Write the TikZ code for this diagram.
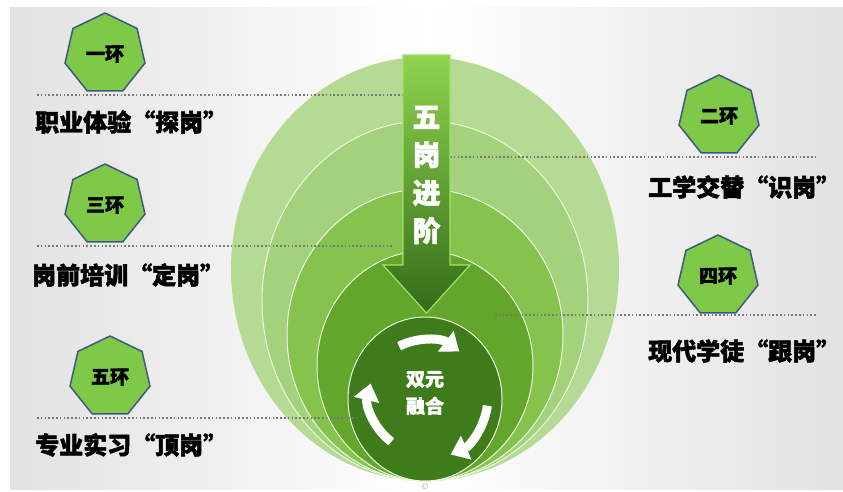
\documentclass[tikz,border=0pt]{standalone}
\usepackage{fontspec}
\newfontfamily\cjk{Noto Sans CJK SC}[BoldFeatures={FakeBold=2}]
\usetikzlibrary{shapes.geometric,arrows.meta}
\definecolor{ringa}{RGB}{181,218,148}
\definecolor{ringb}{RGB}{163,209,124}
\definecolor{ringc}{RGB}{134,194,78}
\definecolor{ringd}{RGB}{98,166,43}
\definecolor{ringe}{RGB}{61,123,27}
\definecolor{ringline}{RGB}{236,248,220}
\definecolor{heptfill}{RGB}{127,201,72}
\definecolor{heptline}{RGB}{62,88,128}
\definecolor{sepgray}{RGB}{120,120,120}
\definecolor{bggray}{RGB}{226,226,226}
\definecolor{arrowtop}{RGB}{143,212,80}
\definecolor{arrowmid}{RGB}{96,160,50}
\definecolor{arrowbot}{RGB}{52,108,24}
\definecolor{arrowline}{RGB}{160,226,104}
\tikzset{every node/.style={align=center}, >=latex,
  hept/.style={regular polygon, regular polygon sides=7, draw=heptline, fill=heptfill, line width=1.5pt,
    minimum size=82pt, inner sep=0pt, font=\cjk\bfseries\fontsize{19}{19}\selectfont},
  caption/.style={anchor=west, inner sep=0pt, font=\cjk\bfseries\fontsize{24}{24}\selectfont},
  sep/.style={draw=sepgray, line width=1.5pt, dash pattern=on 1.5pt off 2.3pt},
  turn/.style={white, line width=9pt, -{Triangle[width=25pt,length=17pt]}}}

\begin{document}
\begin{tikzpicture}[x=1pt, y=1pt]
  \useasboundingbox (0,0) rectangle (843,491);
  \fill[white] (0,0) rectangle (843,491);
  \shade[left color=bggray, right color=bggray, middle color=white] (10,2) rectangle (843,483);

  \fill[ringa] (425,222) ellipse [x radius=194, y radius=212];
  \foreach \c/\cy/\rx/\ry in {ringb/190/163/180, ringc/156/138/146, ringd/125/108/115}
    \filldraw[draw=ringline, line width=1pt, fill=\c] (425,\cy) ellipse [x radius=\rx, y radius=\ry];
  \node[ellipse, draw=ringline, line width=1pt, fill=ringe, minimum width=154pt, minimum height=164pt, inner sep=0pt] (core) at (425,92) {};

  \node[hept] (h1) at (105,437) {一环};
  \node[hept] (h2) at (719,375) {二环};
  \node[hept] (h3) at (105,286) {三环};
  \node[hept] (h4) at (718,215) {四环};
  \node[hept] (h5) at (110,114) {五环};

  \draw[sep] (37,396) -- (403,396);
  \draw[sep] (450,334) -- (817,334);
  \draw[sep] (37,245) -- (393,245);
  \draw[sep] (495,176) -- (817,176);
  \draw[sep] (37,73) -- (357,73);

  \node[caption] (t1) at (35,369) {职业体验“探岗”};
  \node[caption] (t2) at (648,304) {工学交替“识岗”};
  \node[caption] (t3) at (32,216) {岗前培训“定岗”};
  \node[caption] (t4) at (648,140) {现代学徒“跟岗”};
  \node[caption] (t5) at (35,46) {专业实习“顶岗”};

  \shade[top color=arrowtop, middle color=arrowmid, bottom color=arrowbot, draw=arrowline, line width=1.2pt]
    (403,436) -- (450,436) -- (450,226) -- (470,226) -- (426.5,178) -- (383,226) -- (403,226) -- cycle;
  \node[white, font=\cjk\bfseries\fontsize{28}{38}\selectfont] (stage) at (426.5,316) {五\\岗\\进\\阶};

  \draw[turn] (425,94) ++(117:57) arc[start angle=117, end angle=53, radius=57];
  \draw[turn] (425,94) ++(-8:63) arc[start angle=-8, end angle=-66, radius=63];
  \draw[turn] (425,94) ++(233:56) arc[start angle=233, end angle=166, radius=56];
  \node[white, font=\cjk\bfseries\fontsize{19}{27}\selectfont] (fuse) at (425,98) {双元\\融合};

  \node[text=gray, font=\fontsize{8}{8}\selectfont, inner sep=0pt] (mark) at (425,4) {\textcopyright};
\end{tikzpicture}
\end{document}
